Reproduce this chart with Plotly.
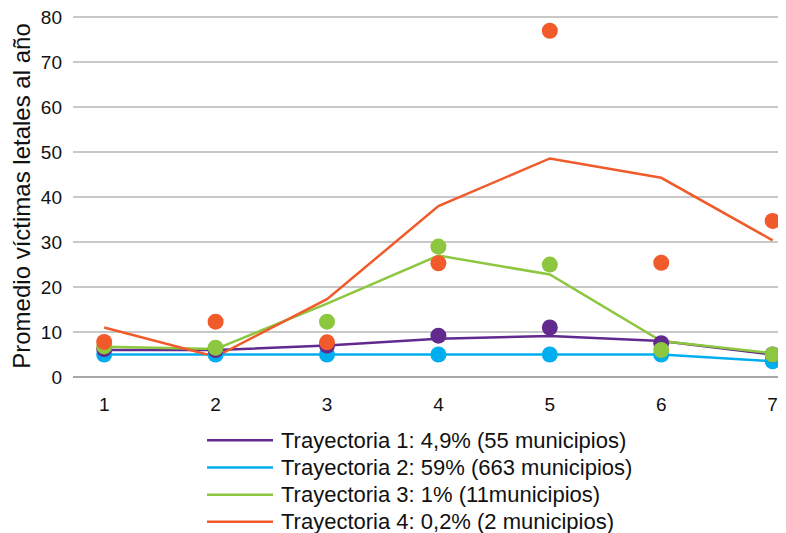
import plotly.graph_objects as go

# Periods on the x axis
periods = [1, 2, 3, 4, 5, 6, 7]

# Fitted trajectories (lines)
tray1_line = [6.0, 6.0, 7.0, 8.5, 9.1, 8.0, 5.0]
tray2_line = [5.0, 5.0, 5.0, 5.0, 5.0, 5.0, 3.5]
tray3_line = [6.7, 6.2, 16.3, 27.0, 22.8, 8.0, 5.3]
tray4_line = [11.0, 4.5, 17.3, 38.0, 48.6, 44.3, 30.4]

# Observed averages (dots)
tray1_obs = [6.2, 6.0, 7.0, 9.2, 11.0, 7.5, 5.0]
tray2_obs = [5.0, 5.0, 5.0, 5.0, 5.0, 5.0, 3.5]
tray3_obs = [6.8, 6.5, 12.3, 29.0, 25.0, 6.0, 5.0]
tray4_obs = [7.8, 12.3, 7.7, 25.3, 77.0, 25.4, 34.7]

labels = [
    "Trayectoria 1: 4,9% (55 municipios)",
    "Trayectoria 2: 59% (663 municipios)",
    "Trayectoria 3: 1% (11municipios)",
    "Trayectoria 4: 0,2% (2 municipios)",
]
colors = ["#62298e", "#00aeef", "#8dc63f", "#f15a2b"]

lines = [tray1_line, tray2_line, tray3_line, tray4_line]
obs = [tray1_obs, tray2_obs, tray3_obs, tray4_obs]

NARROW = "Liberation Sans Narrow, Arial Narrow, Liberation Sans, Arial"
SANS = "Liberation Sans, Arial, Helvetica"

fig = go.Figure()

# lines first, then dots on top (blue, purple, green, orange)
for i in [1, 0, 2, 3]:
    fig.add_trace(go.Scatter(
        x=periods, y=lines[i], mode="lines", name=labels[i],
        line=dict(color=colors[i], width=2.5), showlegend=False,
    ))
for i in [1, 0, 2, 3]:
    fig.add_trace(go.Scatter(
        x=periods, y=obs[i], mode="markers", name=labels[i],
        marker=dict(color=colors[i], size=16, line_width=0),
        showlegend=False, cliponaxis=False,
    ))

# hand-drawn legend below the plot (long line symbols like the original)
leg_y = [-0.175, -0.25, -0.325, -0.40]
for lab, col, yy in zip(labels, colors, leg_y):
    fig.add_shape(type="line", xref="paper", yref="paper",
                  x0=0.188, x1=0.2805, y0=yy, y1=yy,
                  line=dict(color=col, width=2.5))
    fig.add_annotation(xref="paper", yref="paper", x=0.289, y=yy,
                       text=lab, showarrow=False, xanchor="left",
                       yanchor="middle",
                       font=dict(family=SANS, size=22, color="#111111"))

fig.update_xaxes(
    range=[0.72, 7.12],
    tickvals=periods,
    showgrid=False, zeroline=False, showline=False,
    ticks="", ticklabelstandoff=14,
    tickfont=dict(family=NARROW, size=19, color="#111111"),
)
# top a touch above 80 so the 80 gridline is not dropped at the edge
fig.update_yaxes(
    range=[0, 80.5], dtick=10, tick0=0,
    showgrid=True, gridcolor="#c8c8c8", gridwidth=1.5,
    zeroline=True, zerolinecolor="#a8a8a8", zerolinewidth=1.5,
    showline=False, ticks="", ticklabelstandoff=10,
    ticklabeloverflow="allow",
    tickfont=dict(family=NARROW, size=19, color="#111111"),
    title=dict(text="Promedio víctimas letales al año", standoff=10,
               font=dict(family=SANS, size=24, color="#111111")),
)

# the page body has an 8px margin, so the figure is sized/offset for it
fig.update_layout(
    width=778, height=525,
    margin=dict(l=65, r=0, t=7, b=156),
    plot_bgcolor="white", paper_bgcolor="white",
    showlegend=False,
)

fig.write_html("out.html")
